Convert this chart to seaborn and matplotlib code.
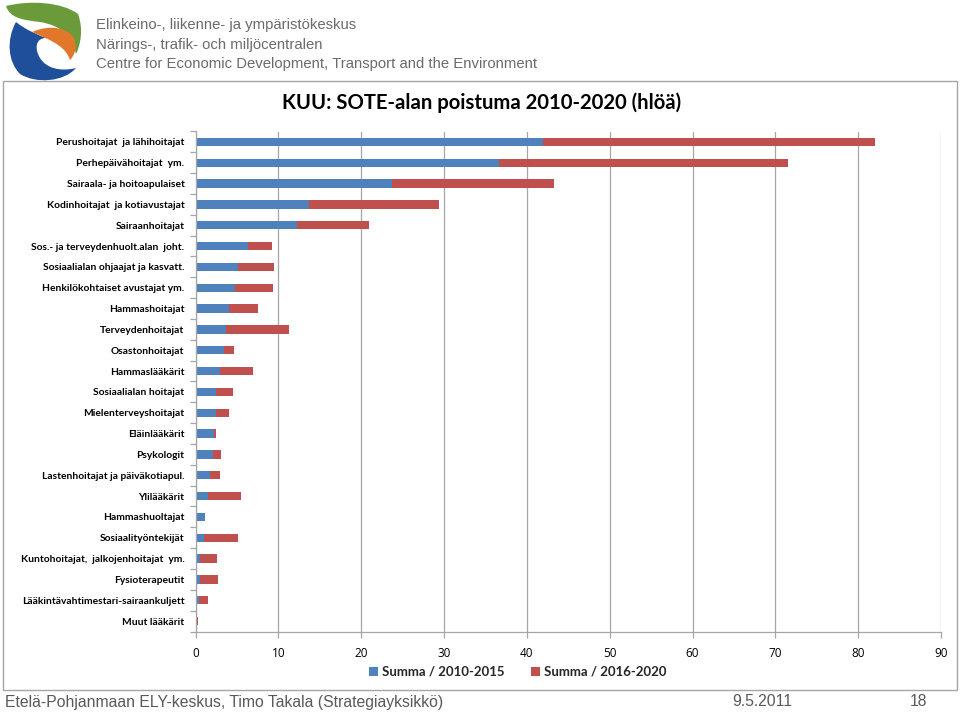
import numpy as np
import pandas as pd
import matplotlib
matplotlib.use("Agg")
import matplotlib.pyplot as plt
import seaborn as sns
from matplotlib.patches import Rectangle, Patch, PathPatch
from matplotlib.path import Path

categories = [
    "Perushoitajat  ja lähihoitajat",
    "Perhepäivähoitajat  ym.",
    "Sairaala- ja hoitoapulaiset",
    "Kodinhoitajat  ja kotiavustajat",
    "Sairaanhoitajat",
    "Sos.- ja terveydenhuolt.alan  joht.",
    "Sosiaalialan ohjaajat ja kasvatt.",
    "Henkilökohtaiset avustajat ym.",
    "Hammashoitajat",
    "Terveydenhoitajat",
    "Osastonhoitajat",
    "Hammaslääkärit",
    "Sosiaalialan hoitajat",
    "Mielenterveyshoitajat",
    "Eläinlääkärit",
    "Psykologit",
    "Lastenhoitajat ja päiväkotiapul.",
    "Ylilääkärit",
    "Hammashuoltajat",
    "Sosiaalityöntekijät",
    "Kuntohoitajat,  jalkojenhoitajat  ym.",
    "Fysioterapeutit",
    "Lääkintävahtimestari-sairaankuljett",
    "Muut lääkärit",
]
summa_2010_2015 = [42.0, 36.6, 23.7, 13.7, 12.3, 6.3, 5.1, 4.8, 4.0, 3.7, 3.4, 3.0,
                   2.5, 2.5, 2.2, 2.1, 1.7, 1.5, 1.2, 1.0, 0.6, 0.55, 0.4, 0.2]
summa_2016_2020 = [40.0, 34.9, 19.6, 15.7, 8.6, 2.9, 4.4, 4.6, 3.5, 7.6, 1.2, 3.9,
                   2.05, 1.5, 0.3, 1.0, 1.2, 3.95, 0.0, 4.1, 2.0, 2.2, 1.1, 0.1]
series_names = ["Summa / 2010-2015", "Summa / 2016-2020"]
x_ticks = [0, 10, 20, 30, 40, 50, 60, 70, 80, 90]

BLUE = "#4F81BD"
RED = "#C0504D"
GRID = "#A6A6A6"

sns.set_theme(style="white")
plt.rcParams["font.family"] = ["Lato", "DejaVu Sans"]

df = pd.DataFrame({
    "cat": categories,
    "a": summa_2010_2015,
    "b": summa_2016_2020,
})
df["total"] = df["a"] + df["b"]

fig = plt.figure(figsize=(9.6, 7.12), dpi=100)
W, H = 960, 712
ax = fig.add_axes([195.5 / W, 1 - 631.5 / H, (941 - 195.5) / W, (631.5 - 131.5) / H])

sns.barplot(data=df, x="total", y="cat", color=RED, width=0.4, ax=ax,
            saturation=1, edgecolor="none", linewidth=0)
sns.barplot(data=df, x="a", y="cat", color=BLUE, width=0.4, ax=ax,
            saturation=1, edgecolor="none", linewidth=0)

ax.set_xlim(0, 90)
ax.set_ylim(len(categories) - 0.5, -0.5)
ax.set_xlabel("")
ax.set_ylabel("")
ax.set_xticks(x_ticks)
ax.set_xticklabels([str(t) for t in x_ticks], fontsize=8.5, family=["Open Sans", "DejaVu Sans"], color="#000000")
ax.grid(axis="x", color=GRID, linewidth=0.9)
ax.grid(axis="y", visible=False)
ax.set_axisbelow(True)
for s in ["top", "right"]:
    ax.spines[s].set_visible(False)
for s in ["left", "bottom"]:
    ax.spines[s].set_color(GRID)
    ax.spines[s].set_linewidth(0.9)
ax.tick_params(axis="x", which="major", length=4, color=GRID, width=0.9, pad=7, bottom=True)
ax.tick_params(axis="y", which="major", length=0, pad=8)
ax.set_yticks(np.arange(-0.5, len(categories), 1), minor=True)
ax.tick_params(axis="y", which="minor", length=4, color=GRID, width=0.9, left=True)
for lab in ax.get_yticklabels():
    lab.set_fontsize(7.4)
    lab.set_fontweight("bold")
    lab.set_color("#000000")

# title
fig.text(482 / W, 1 - 103 / H, "KUU: SOTE-alan poistuma 2010-2020 (hlöä)",
         ha="center", va="center", fontsize=14.6, fontweight="bold", color="#000000")

# legend
handles = [Patch(facecolor=BLUE, edgecolor="none"), Patch(facecolor=RED, edgecolor="none")]
leg = fig.legend(handles, series_names, loc="center", bbox_to_anchor=(518 / W, 1 - 672 / H),
                 ncol=2, frameon=False, handlelength=0.7, handleheight=0.7,
                 handletextpad=0.3, columnspacing=2.0,
                 prop={"family": ["Lato", "DejaVu Sans"], "weight": "bold", "size": 9.5})

# outer frame
fig.patches.append(Rectangle((2.5 / W, 1 - 690 / H), (957 - 2.5) / W, (690 - 80.5) / H,
                             transform=fig.transFigure, fill=False, edgecolor=GRID, linewidth=1.0))

# header texts
hdr = dict(family=["Liberation Sans", "DejaVu Sans"], fontsize=10.7, color="#6b6b6b", va="center", ha="left")
fig.text(96 / W, 1 - 25 / H, "Elinkeino-, liikenne- ja ympäristökeskus", **hdr)
fig.text(96 / W, 1 - 45 / H, "Närings-, trafik- och miljöcentralen", **hdr)
fig.text(96 / W, 1 - 64 / H, "Centre for Economic Development, Transport and the Environment", **hdr)

# footer texts
ftr = dict(family=["Liberation Sans", "DejaVu Sans"], fontsize=11.3, color="#595959", va="center")
fig.text(5 / W, 1 - 702 / H, "Etelä-Pohjanmaan ELY-keskus, Timo Takala (Strategiayksikkö)", ha="left", **ftr)
fig.text(762 / W, 1 - 702 / H, "9.5.2011", ha="center", **ftr)
fig.text(918 / W, 1 - 702 / H, "18", ha="center", **ftr)

# logo (approximate shapes in pixel coords)
def px_path(verts, codes):
    v = [(x / W, 1 - y / H) for x, y in verts]
    return Path(v, codes)

C4 = Path.CURVE4
M, CL = Path.MOVETO, Path.CLOSEPOLY
green = px_path(
    [(6, 6), (30, 0), (62, 2), (78, 14), (84, 30), (80, 46), (76, 54),
     (72, 38), (64, 26), (40, 22), (22, 20), (10, 18), (6, 6), (6, 6)],
    [M, C4, C4, C4, C4, C4, C4, C4, C4, C4, C4, C4, C4, CL])
orange = px_path(
    [(32, 32), (50, 24), (68, 28), (74, 38), (78, 48), (74, 56), (70, 60),
     (66, 48), (56, 42), (32, 32), (32, 32)],
    [M, C4, C4, C4, C4, C4, C4, C4, C4, C4, CL])
blue = px_path(
    [(16, 22), (6, 40), (8, 62), (20, 74), (36, 84), (64, 82), (76, 68),
     (60, 72), (46, 68), (40, 58), (34, 48), (36, 38), (46, 38),
     (36, 34), (26, 30), (16, 22), (16, 22)],
    [M, C4, C4, C4, C4, C4, C4, C4, C4, C4, C4, C4, C4, C4, C4, C4, CL])
for p, c in [(blue, "#1f4e9a"), (green, "#6a9a3a"), (orange, "#e2762a")]:
    fig.patches.append(PathPatch(p, transform=fig.transFigure, facecolor=c, edgecolor="none"))

fig.savefig("out.png", dpi=100)
